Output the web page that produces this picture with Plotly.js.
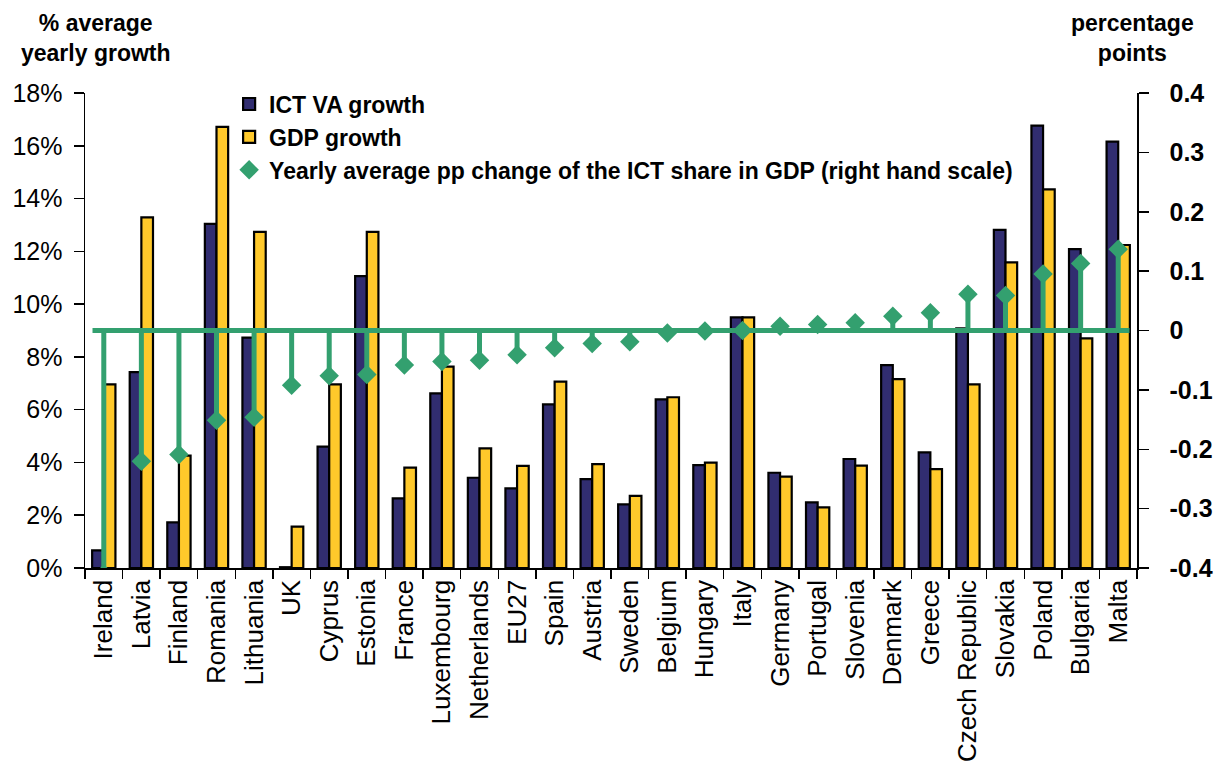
<!DOCTYPE html>
<html>
<head>
<meta charset="utf-8">
<script src="https://cdn.plot.ly/plotly-3.0.1.min.js"></script>
<style>html,body{margin:0;padding:0;background:#fff;}#chart{width:1214px;height:772px;}</style>
</head>
<body>
<div id="chart"></div>
<script>
const countries = ["Ireland","Latvia","Finland","Romania","Lithuania","UK","Cyprus","Estonia","France","Luxembourg","Netherlands","EU27","Spain","Austria","Sweden","Belgium","Hungary","Italy","Germany","Portugal","Slovenia","Denmark","Greece","Czech Republic","Slovakia","Poland","Bulgaria","Malta"];
const ictVaGrowth = [0.67,7.42,1.73,13.04,8.73,0.03,4.6,11.06,2.64,6.62,3.42,3.02,6.2,3.37,2.41,6.39,3.9,9.5,3.61,2.49,4.13,7.69,4.38,9.08,12.81,16.76,12.08,16.16];
const gdpGrowth = [6.96,13.29,4.26,16.72,12.74,1.57,6.96,12.74,3.8,7.63,4.53,3.87,7.06,3.94,2.73,6.47,3.99,9.5,3.46,2.3,3.88,7.16,3.75,6.96,11.58,14.35,8.7,12.24];
const ictShareChange = [-0.41,-0.22,-0.209,-0.151,-0.146,-0.092,-0.076,-0.074,-0.058,-0.052,-0.05,-0.041,-0.029,-0.022,-0.019,-0.004,-0.001,0.0,0.007,0.01,0.013,0.024,0.03,0.061,0.059,0.095,0.113,0.137];
const leftTickVals = [0,2,4,6,8,10,12,14,16,18];
const leftTickText = ["0%","2%","4%","6%","8%","10%","12%","14%","16%","18%"];
const rightTickVals = [-0.4,-0.3,-0.2,-0.1,0,0.1,0.2,0.3,0.4];
const rightTickText = ["-0.4","-0.3","-0.2","-0.1","0","0.1","0.2","0.3","0.4"];

const NAVY = "#312D70", GOLD = "#FFC92B", GREEN = "#33A06F";
const FONT = "Liberation Sans, Arial, Helvetica, sans-serif";

// stems from 0 to each value
const stemX = [], stemY = [];
countries.forEach((c, i) => { stemX.push(c, c, null); stemY.push(0, ictShareChange[i], null); });

const traces = [
  {type:"bar", name:"ICT VA growth", x:countries, y:ictVaGrowth, marker:{color:NAVY, line:{color:"#000", width:2.2}}, xaxis:"x", yaxis:"y"},
  {type:"bar", name:"GDP growth", x:countries, y:gdpGrowth, marker:{color:GOLD, line:{color:"#000", width:2.2}}, xaxis:"x", yaxis:"y"},
  {type:"scatter", mode:"lines", x:stemX, y:stemY, line:{color:GREEN, width:5}, showlegend:false, hoverinfo:"skip", xaxis:"x", yaxis:"y2"},
  {type:"scatter", mode:"markers", name:"Yearly average pp change of the ICT share in GDP (right hand scale)", x:countries, y:ictShareChange, marker:{symbol:"diamond", size:15, color:GREEN}, xaxis:"x", yaxis:"y2"}
];

const n = countries.length;
const layout = {
  width:1214, height:772,
  margin:{l:85, r:77, t:93, b:204},
  paper_bgcolor:"#fff", plot_bgcolor:"rgba(0,0,0,0)",
  font:{family:FONT, color:"#000"},
  barmode:"group", bargap:0.38, bargroupgap:0,
  showlegend:true,
  legend:{x:0.137, xanchor:"left", y:1.022, yanchor:"top", bgcolor:"rgba(0,0,0,0)", font:{size:23, family:FONT, weight:"bold", color:"#000"}, itemwidth:30, tracegroupgap:0},
  xaxis:{type:"category", range:[-0.5, n-0.5], tickson:"boundaries", ticks:"outside", ticklen:9, tickwidth:1.5, tickcolor:"#000", showline:true, linecolor:"#000", linewidth:1.5, tickangle:-90, tickfont:{size:26, family:FONT}, showgrid:false, zeroline:false, automargin:false, fixedrange:true},
  xaxis2:{overlaying:"x", anchor:"y", type:"linear", range:[-0.5, n-0.5], tick0:-0.5, dtick:1, ticks:"inside", ticklen:9, tickwidth:1.5, tickcolor:"#000", showticklabels:false, showgrid:false, zeroline:false, showline:false},
  yaxis:{range:[0,18], tickvals:leftTickVals, ticktext:leftTickText, ticks:"outside", ticklen:10, tickwidth:1.5, tickcolor:"#000", showline:true, linecolor:"#000", linewidth:1.5, tickfont:{size:25, family:FONT}, ticklabelstandoff:6, showgrid:false, zeroline:false, automargin:false},
  yaxis2:{overlaying:"y", side:"right", anchor:"x", range:[-0.4,0.4], tickvals:rightTickVals, ticktext:rightTickText, ticks:"outside", ticklen:10, tickwidth:1.5, tickcolor:"#000", showline:true, linecolor:"#000", linewidth:1.5, tickfont:{size:25, family:FONT, weight:"bold"}, ticklabelstandoff:16, showgrid:false, zeroline:false, automargin:false},
  yaxis3:{overlaying:"y", side:"left", anchor:"x", range:[0,18], tickvals:leftTickVals, ticks:"inside", ticklen:10, tickwidth:1.5, tickcolor:"#000", showticklabels:false, showgrid:false, zeroline:false, showline:false},
  yaxis4:{overlaying:"y", side:"right", anchor:"x", range:[-0.4,0.4], tickvals:rightTickVals, ticks:"inside", ticklen:10, tickwidth:1.5, tickcolor:"#000", showticklabels:false, showgrid:false, zeroline:false, showline:false},
  shapes:[{type:"line", xref:"x", yref:"y2", x0:-0.3, x1:n-1+0.3, y0:0, y1:0, line:{color:GREEN, width:5}, layer:"above"}],
  annotations:[
    {text:"<b>% average<br>yearly growth</b>", xref:"paper", yref:"paper", x:0.01, y:1.18, xanchor:"center", yanchor:"top", showarrow:false, font:{size:23, family:FONT}, align:"center"},
    {text:"<b>percentage<br>points</b>", xref:"paper", yref:"paper", x:0.996, y:1.18, xanchor:"center", yanchor:"top", showarrow:false, font:{size:23, family:FONT}, align:"center"}
  ]
};

Plotly.newPlot("chart", traces, layout, {displayModeBar:false, staticPlot:true});
</script>
</body>
</html>
